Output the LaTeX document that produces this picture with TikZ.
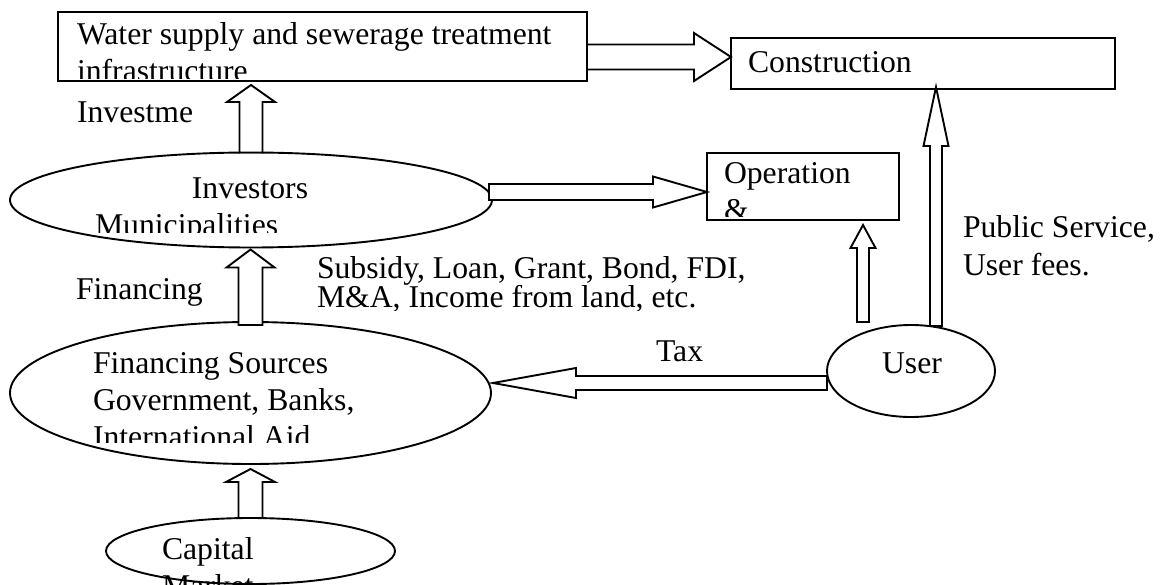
\documentclass[tikz,border=0pt]{standalone}
\usepackage{fontspec}
\setmainfont{Liberation Serif}
\usetikzlibrary{calc,shapes.geometric}
% block (hollow) arrow: #1 start, #2 tip, #3 shaft half width, #4 head half width, #5 head length
\newcommand\blockarr[5]{%
  \path (#1) coordinate (ba) (#2) coordinate (bb);
  \path ($(bb)!#5!(ba)$) coordinate (bh);
  \draw[blk] ($(ba)!#3!90:(bb)$) -- ($(bh)!#3!-90:(ba)$) -- ($(bh)!#4!-90:(ba)$) -- (bb)
     -- ($(bh)!#4!90:(ba)$) -- ($(bh)!#3!90:(ba)$) -- ($(ba)!#3!-90:(bb)$) -- cycle;
}
\begin{document}
\begin{tikzpicture}[x=1pt,y=-1pt,
  lw/.style={line width=1.9pt},
  box/.style={draw,lw,rectangle,inner sep=0pt,outer sep=0pt},
  ell/.style={draw,lw,ellipse,inner sep=0pt,outer sep=0pt},
  txt/.style={anchor=base west,inner sep=0pt,outer sep=0pt,font=\fontsize{31.7}{37}\selectfont},
  blk/.style={draw,lw,fill=white,line join=miter}]
\useasboundingbox (0,0) rectangle (1166,585);

% shapes
\node[box,minimum width=529pt,minimum height=69pt] (box1) at (322.5,46.5) {};
\node[box,minimum width=384pt,minimum height=51pt] (cons) at (923,63.5) {};
\node[box,minimum width=192pt,minimum height=67pt] (ope) at (803,186.5) {};
\node[ell,minimum width=482pt,minimum height=95pt] (inv) at (251,200) {};
\node[ell,minimum width=481pt,minimum height=142pt] (fin) at (250.5,393) {};
\node[ell,minimum width=168pt,minimum height=92pt] (user) at (911,371) {};
\node[ell,minimum width=289pt,minimum height=66pt] (cap) at (250.5,551) {};

% texts
\begin{scope}
\clip (58,12) rectangle (587,79);
\node[txt] (t1a) at (77,45) {Water supply and sewerage treatment};
\node[txt] (t1b) at (77,82) {infrastructure};
\end{scope}
\node[txt] (tcons) at (748,73) {Construction};
\node[txt] (tinvm) at (77,123) {Investme};
\node[txt,anchor=base] (tinv) at (250,199) {Investors};
\begin{scope}
\clip (0,150) rectangle (600,233);
\node[txt] (tmun) at (95,236) {Municipalities};
\end{scope}
\node[txt] (tope) at (724,184) {Operation};
\begin{scope}
\clip (700,150) rectangle (900,217);
\node[txt] (tamp) at (724,221) {\&};
\end{scope}
\node[txt] (tfinl) at (76,299) {Financing};
\node[txt] (tsub) at (317,278) {Subsidy, Loan, Grant, Bond, FDI,};
\begin{scope}
\clip (300,285) rectangle (800,310);
\node[txt] (tma) at (317,307) {M\&A, Income from land, etc.};
\end{scope}
\node[txt] (tfs) at (93,373) {Financing Sources};
\node[txt] (tgov) at (93,410) {Government, Banks,};
\begin{scope}
\clip (0,300) rectangle (500,442);
\node[txt] (tia) at (93,447) {International Aid};
\end{scope}
\node[txt] (ttax) at (656,361) {Tax};
\node[txt,anchor=base] (tuser) at (912,373) {User};
\node[txt] (tps) at (963,238) {Public Service,};
\node[txt] (tuf) at (963,275) {User fees.};
\node[txt] (tcap) at (162,559) {Capital};
\node[txt] (tmkt) at (162,596) {Market};

% connectors (block arrows)
\coordinate (a1s) at ([yshift=-10.5pt]box1.east);
\blockarr{a1s}{a1s -| cons.west}{12.5pt}{24pt}{37pt}

\coordinate (a2e) at ([yshift=-4pt]box1.south);
\blockarr{inv.north}{inv.north |- a2e}{11.5pt}{24pt}{17pt}

\coordinate (a3s) at ([xshift=-3pt,yshift=8pt]inv.east);
\blockarr{a3s}{a3s -| ope.west}{8pt}{15.5pt}{54pt}

\coordinate (a4s) at ([yshift=-3pt]fin.north);
\coordinate (a4e) at ([yshift=-2pt]inv.south);
\blockarr{a4s}{a4s |- a4e}{12pt}{24pt}{18pt}

\coordinate (a5s) at ([yshift=-12pt]user.west);
\coordinate (a5e) at ([xshift=2pt]fin.east);
\blockarr{a5s}{a5s -| a5e}{7pt}{15pt}{83pt}

\coordinate (a6s) at ([xshift=-48pt,yshift=3pt]user.north);
\coordinate (a6e) at ([yshift=-5pt]ope.south);
\blockarr{a6s}{a6s |- a6e}{6pt}{12.5pt}{23pt}

\coordinate (a7s) at ([xshift=25pt,yshift=-1pt]user.north);
\coordinate (a7e) at ([yshift=2pt]cons.south);
\blockarr{a7s}{a7s |- a7e}{6pt}{12.5pt}{59pt}

\coordinate (a8e) at ([yshift=-5pt]fin.south);
\blockarr{cap.north}{cap.north |- a8e}{12pt}{24.5pt}{13pt}
\end{tikzpicture}
\end{document}
